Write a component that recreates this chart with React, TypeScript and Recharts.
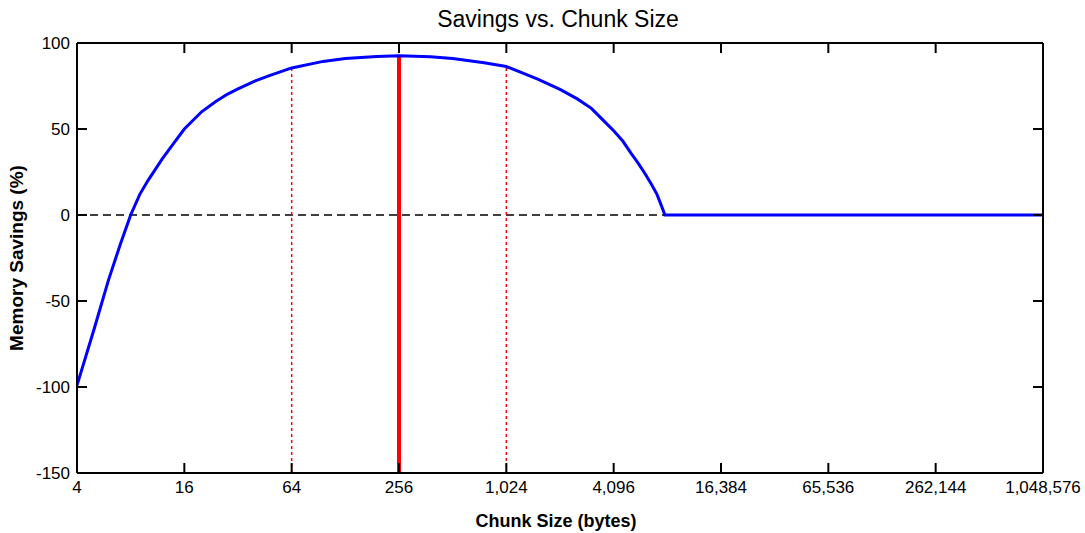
import { Line, LineChart, XAxis, YAxis } from "recharts";

// chunk size in bytes vs. memory savings in percent
const chunkSizes = [
  4, 5, 6, 7, 8, 9, 10, 12, 14, 16, 20, 24, 28, 32, 40, 48, 64, 96, 128, 192,
  256, 384, 512, 768, 1024, 1536, 2048, 2560, 3072, 3584, 4096, 4608, 5120,
  5632, 6144, 6656, 7168, 7680, 7936, 1048576,
];
const savings = [
  -99, -66, -38, -17, 0, 12, 20, 32.5, 42, 50, 60, 66, 70.3, 73.3, 78, 81,
  85.5, 89.3, 91, 92.2, 92.6, 92, 91, 88.5, 86.3, 79, 73, 67.5, 62, 55, 49, 43,
  36, 30, 24, 18, 12, 4, 0, 0,
];

// vertical markers: 256 is the chosen size, 64 and 1024 the bounds
const markerSizes = [64, 256, 1024];
const markerTops = [85.5, 92.6, 86.3];

const xTicks = [4, 16, 64, 256, 1024, 4096, 16384, 65536, 262144, 1048576];
const yTicks = [-150, -100, -50, 0, 50, 100];

const X_DOMAIN = [4, 1048576];
const Y_DOMAIN = [-150, 100];
const FONT = "'Liberation Sans', Arial, Helvetica, sans-serif";
const TICK_LEN = 10;

const curveData = chunkSizes.map((c, i) => ({ chunk: c, level: savings[i] }));
const zeroLine = [
  { chunk: X_DOMAIN[0], level: 0 },
  { chunk: X_DOMAIN[1], level: 0 },
];
const markerData = markerSizes.map((c, i) => [
  { chunk: c, level: Y_DOMAIN[0] },
  { chunk: c, level: markerTops[i] },
]);

const fmt = (v: number) => v.toLocaleString("en-US");

const BottomTick = ({ x, y, payload }: any) => (
  <g>
    <line x1={x} x2={x} y1={y} y2={y - TICK_LEN} stroke="#000" strokeWidth={2} />
    <text
      x={x}
      y={y + 8}
      dy="0.71em"
      textAnchor="middle"
      fontSize={17}
      fontFamily={FONT}
      fill="#000"
    >
      {fmt(payload.value)}
    </text>
  </g>
);

const TopTick = ({ x, y }: any) => (
  <line x1={x} x2={x} y1={y} y2={y + TICK_LEN} stroke="#000" strokeWidth={2} />
);

const LeftTick = ({ x, y, payload }: any) => (
  <g>
    <line x1={x} x2={x + TICK_LEN} y1={y} y2={y} stroke="#000" strokeWidth={2} />
    <text
      x={x - 7}
      y={y}
      dy="0.355em"
      textAnchor="end"
      fontSize={17}
      fontFamily={FONT}
      fill="#000"
    >
      {payload.value}
    </text>
  </g>
);

const RightTick = ({ x, y }: any) => (
  <line x1={x} x2={x - TICK_LEN} y1={y} y2={y} stroke="#000" strokeWidth={2} />
);

const markerStyles = [
  { width: 1.5, dash: "3 3" },
  { width: 4, dash: undefined },
  { width: 1.5, dash: "3 3" },
];

export default function App() {
  return (
    <div style={{ position: "absolute", left: 0, top: 0, background: "#fff" }}>
      <LineChart
        width={1085}
        height={533}
        margin={{ top: 0, right: 0, bottom: 0, left: 0 }}
        style={{ fontFamily: FONT }}
      >
        <XAxis
          dataKey="chunk"
          type="number"
          scale="log"
          domain={X_DOMAIN}
          ticks={xTicks}
          interval={0}
          allowDataOverflow
          height={60}
          tickSize={0}
          tickMargin={0}
          tick={<BottomTick />}
          axisLine={{ stroke: "#000", strokeWidth: 2 }}
          label={{
            value: "Chunk Size (bytes)",
            position: "insideBottom",
            offset: 6,
            fontSize: 18,
            fontWeight: "bold",
            fill: "#000",
            dx: -4,
          }}
        />
        <XAxis
          xAxisId="top"
          orientation="top"
          dataKey="chunk"
          type="number"
          scale="log"
          domain={X_DOMAIN}
          ticks={xTicks}
          interval={0}
          allowDataOverflow
          height={43}
          tickSize={0}
          tickMargin={0}
          tick={<TopTick />}
          axisLine={{ stroke: "#000", strokeWidth: 2 }}
          label={{
            value: "Savings vs. Chunk Size",
            position: "insideTop",
            offset: 11,
            fontSize: 23,
            fill: "#000",
            dx: -2,
          }}
        />
        <YAxis
          type="number"
          domain={Y_DOMAIN}
          ticks={yTicks}
          interval={0}
          allowDataOverflow
          width={77}
          tickSize={0}
          tickMargin={0}
          tick={<LeftTick />}
          axisLine={{ stroke: "#000", strokeWidth: 2 }}
          label={{
            value: "Memory Savings (%)",
            angle: -90,
            position: "insideLeft",
            offset: 16,
            fontSize: 19,
            fontWeight: "bold",
            fill: "#000",
            style: { textAnchor: "middle" },
          }}
        />
        <YAxis
          yAxisId="right"
          orientation="right"
          type="number"
          domain={Y_DOMAIN}
          ticks={yTicks}
          interval={0}
          allowDataOverflow
          width={42}
          tickSize={0}
          tickMargin={0}
          tick={<RightTick />}
          axisLine={{ stroke: "#000", strokeWidth: 2 }}
        />

        <Line
          data={zeroLine}
          xAxisId="top"
          yAxisId="right"
          dataKey="level"
          stroke="#000"
          strokeWidth={1.5}
          strokeDasharray="8 5"
          dot={false}
          activeDot={false}
          isAnimationActive={false}
        />
        {markerData.map((d, i) => (
          <Line
            key={`marker-${i}`}
            data={d}
            dataKey="level"
            stroke="#ff0000"
            strokeWidth={markerStyles[i].width}
            strokeDasharray={markerStyles[i].dash}
            dot={false}
            activeDot={false}
            isAnimationActive={false}
          />
        ))}
        <Line
          data={curveData}
          dataKey="level"
          stroke="#0000ff"
          strokeWidth={3}
          dot={false}
          activeDot={false}
          isAnimationActive={false}
        />
      </LineChart>
    </div>
  );
}
